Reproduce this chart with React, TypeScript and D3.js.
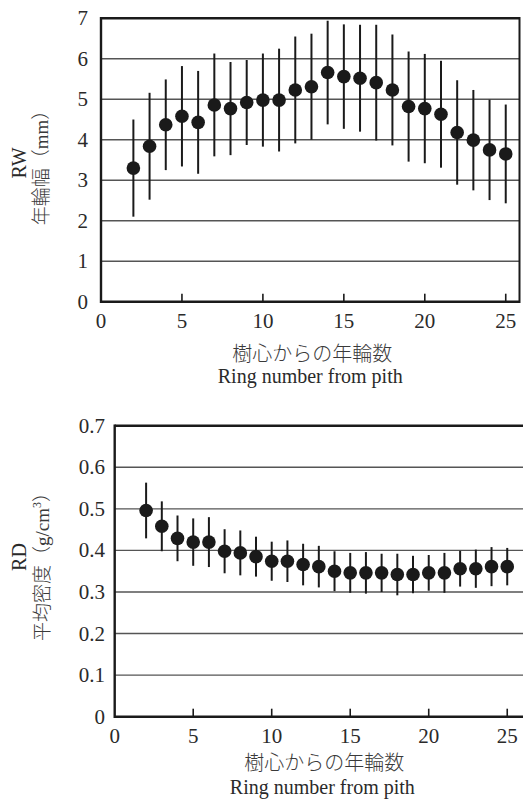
import React from "react";
import * as d3 from "d3";

const ringNumbers = [2,3,4,5,6,7,8,9,10,11,12,13,14,15,16,17,18,19,20,21,22,23,24,25];
const rwMean = [3.30,3.84,4.37,4.58,4.43,4.86,4.77,4.92,4.98,4.98,5.23,5.31,5.66,5.56,5.52,5.41,5.23,4.82,4.77,4.63,4.18,3.99,3.75,3.65];
const rwSd = [1.20,1.32,1.12,1.24,1.27,1.27,1.15,1.05,1.15,1.27,1.32,1.31,1.28,1.29,1.32,1.43,1.37,1.36,1.35,1.32,1.29,1.24,1.24,1.22];
const rdMean = [0.496,0.458,0.429,0.420,0.420,0.398,0.394,0.385,0.374,0.374,0.366,0.361,0.350,0.346,0.346,0.346,0.342,0.342,0.346,0.346,0.356,0.356,0.361,0.361];
const rdSd = [0.067,0.060,0.055,0.057,0.060,0.053,0.054,0.048,0.047,0.050,0.050,0.050,0.048,0.048,0.050,0.046,0.050,0.045,0.043,0.048,0.043,0.046,0.047,0.045];

const xTicks = [0,5,10,15,20,25];
const rwTicks = [0,1,2,3,4,5,6,7];
const rdTicks = [0,0.1,0.2,0.3,0.4,0.5,0.6,0.7];

const xTitleJa = "樹心からの年輪数";
const xTitleEn = "Ring number from pith";

const SERIF = "Liberation Serif, Times New Roman, serif";
const CJK = "Noto Sans CJK JP, sans-serif";
const TXT = "#2a2a2a";

type PanelProps = {
  left: number; right: number; top: number; bottom: number;
  xMax: number; yTicks: number[]; fmt: (v: number) => string;
  mean: number[]; sd: number[]; labelRight: number;
  code: string; titleJa: React.ReactNode; codeX: number; codeY: number; titleX: number; titleY: number;
  showRight: boolean; jaOff: number; enOff: number;
};

function Panel(p: PanelProps) {
  const x = d3.scaleLinear().domain([0, p.xMax]).range([p.left, p.right]);
  const y = d3.scaleLinear().domain([0, p.yTicks[p.yTicks.length - 1]]).range([p.bottom, p.top]);
  const data = ringNumbers.map((n, i) => ({ n, m: p.mean[i], s: p.sd[i] }));
  const frameRight = p.showRight ? p.right : 525;
  return (
    <g>
      {p.yTicks.slice(1, -1).map((t) => (
        <line key={"g" + t} x1={p.left} x2={frameRight} y1={y(t)} y2={y(t)} stroke="#555" strokeWidth={1.4} />
      ))}
      <line x1={p.left} x2={frameRight} y1={p.top} y2={p.top} stroke="#1a1a1a" strokeWidth={2.4} />
      <line x1={p.left} x2={frameRight} y1={p.bottom} y2={p.bottom} stroke="#1a1a1a" strokeWidth={2.4} />
      <line x1={p.left} x2={p.left} y1={p.top - 1.2} y2={p.bottom + 1.2} stroke="#1a1a1a" strokeWidth={2.4} />
      {p.showRight && (
        <line x1={p.right} x2={p.right} y1={p.top - 1.2} y2={p.bottom + 1.2} stroke="#1a1a1a" strokeWidth={2} />
      )}
      {xTicks.slice(1).map((t) => (
        <line key={"t" + t} x1={x(t)} x2={x(t)} y1={p.bottom} y2={p.bottom - 8} stroke="#1a1a1a" strokeWidth={1.6} />
      ))}
      {p.yTicks.map((t) => (
        <text key={"yl" + t} x={p.labelRight} y={y(t) + 7} textAnchor="end" fontFamily={SERIF} fontSize={21} fill={TXT}>
          {p.fmt(t)}
        </text>
      ))}
      {xTicks.map((t) => (
        <text key={"xl" + t} x={x(t)} y={p.bottom + 26} textAnchor="middle" fontFamily={SERIF} fontSize={21} fill={TXT}>
          {t}
        </text>
      ))}
      {data.map((d) => (
        <line key={"e" + d.n} x1={x(d.n)} x2={x(d.n)} y1={y(d.m + d.s)} y2={y(d.m - d.s)} stroke="#1a1a1a" strokeWidth={2} />
      ))}
      {data.map((d) => (
        <circle key={"c" + d.n} cx={x(d.n)} cy={y(d.m)} r={6.8} fill="#1a1a1a" />
      ))}
      <text x={(p.left + p.right) / 2 + 2} y={p.bottom + p.jaOff} textAnchor="middle" fontFamily={CJK} fontWeight={300} fontSize={20} fill="#3a3a3a">
        {xTitleJa}
      </text>
      <text x={(p.left + p.right) / 2} y={p.bottom + p.enOff} textAnchor="middle" fontFamily={SERIF} fontSize={20} fill={TXT}>
        {xTitleEn}
      </text>
      <text transform={`translate(${p.codeX},${p.codeY}) rotate(-90)`} textAnchor="middle" fontFamily={SERIF} fontSize={20} fill={TXT}>
        {p.code}
      </text>
      <text transform={`translate(${p.titleX},${p.titleY}) rotate(-90)`} textAnchor="middle" fontFamily={CJK} fontWeight={300} fontSize={19} fill="#3a3a3a">
        {p.titleJa}
      </text>
    </g>
  );
}

export default function App() {
  return (
    <svg width={523} height={800} style={{ position: "absolute", left: 0, top: 0, background: "#fff" }}>
      <Panel
        left={101} right={519.5} top={18.3} bottom={301.7} xMax={25.85}
        yTicks={rwTicks} fmt={(v) => String(v)} mean={rwMean} sd={rwSd} labelRight={88}
        code="RW" titleJa={<>年輪幅（<tspan fontFamily={SERIF}>mm</tspan>）</>}
        codeX={26} codeY={163} titleX={48} titleY={163} showRight={true} jaOff={59} enOff={81}
      />
      <Panel
        left={114.7} right={530} top={425.7} bottom={716.7} xMax={26.45}
        yTicks={rdTicks} fmt={(v) => (v === 0 ? "0" : v.toFixed(1))} mean={rdMean} sd={rdSd} labelRight={105}
        code="RD"
        titleJa={<>平均密度（<tspan fontFamily={SERIF}>g/cm</tspan><tspan fontFamily={SERIF} fontSize={12} dy={-8}>3</tspan><tspan dy={8}>）</tspan></>}
        codeX={26} codeY={557} titleX={49} titleY={562} showRight={false} jaOff={53} enOff={77.5}
      />
    </svg>
  );
}
